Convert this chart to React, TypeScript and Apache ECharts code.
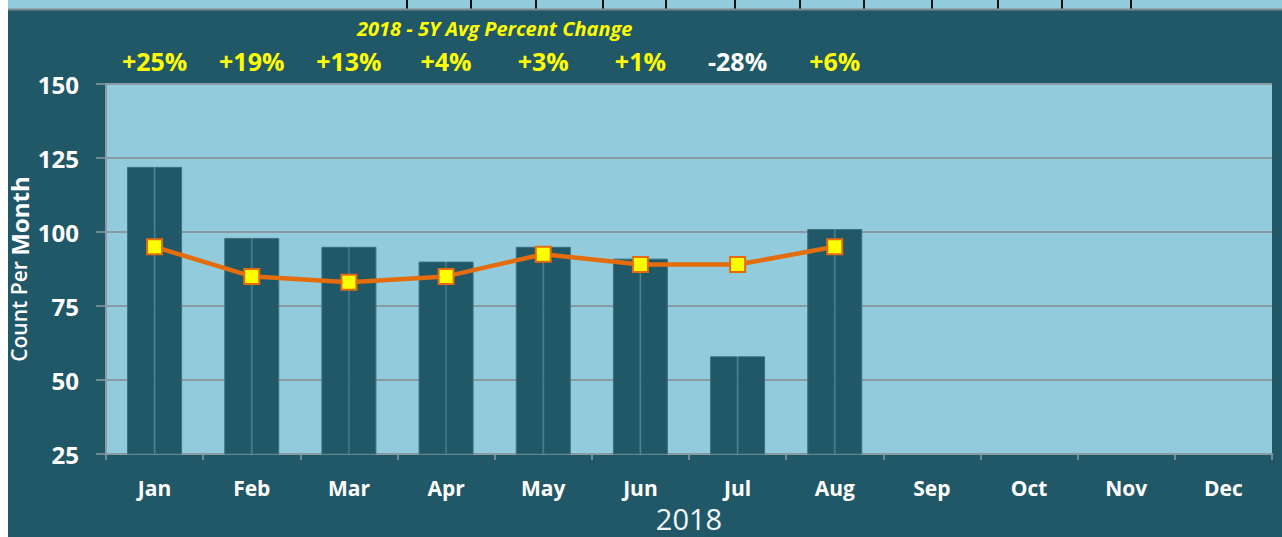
import React, { useEffect, useRef } from "react";
import * as echarts from "echarts";

const months = ["Jan", "Feb", "Mar", "Apr", "May", "Jun", "Jul", "Aug", "Sep", "Oct", "Nov", "Dec"];
const counts2018 = [122, 98, 95, 90, 95, 91, 58, 101];
const avg5y = [95, 85, 83, 85, 92.5, 89, 89, 95];
const percentChange = ["+25%", "+19%", "+13%", "+4%", "+3%", "+1%", "-28%", "+6%", "", "", "", ""];
const yTicks = { min: 25, max: 150, interval: 25 };
const topStripTicks = [407, 471, 536, 603, 666, 735, 800, 864, 932, 998, 1062, 1131];

const FONT = "'Open Sans', 'Noto Sans', sans-serif";
const TEAL = "#215868";
const LIGHT = "#92cbdc";
const GRAY = "#8a9aa2";

export default function App() {
  const ref = useRef<HTMLDivElement>(null);
  useEffect(() => {
    if (!ref.current) return;
    const chart = echarts.init(ref.current, null, { renderer: "svg" });
    const stripGraphics: any[] = [
      { type: "rect", shape: { x: 0, y: 0, width: 1274, height: 9 }, style: { fill: LIGHT }, silent: true },
      { type: "line", shape: { x1: 0, y1: 9.5, x2: 1274, y2: 9.5 }, style: { stroke: "#7d8a8f", lineWidth: 2 }, silent: true },
      ...topStripTicks.map((x) => ({
        type: "line",
        shape: { x1: x - 8, y1: 0, x2: x - 8, y2: 8.5 },
        style: { stroke: "#111", lineWidth: 2 },
        silent: true,
      })),
    ];
    chart.setOption({
      animation: false,
      backgroundColor: TEAL,
      textStyle: { fontFamily: FONT },
      title: {
        text: "2018 - 5Y Avg Percent Change",
        left: 344,
        top: 13,
        textStyle: { color: "#ffff00", fontSize: 20, fontStyle: "italic", fontWeight: "bold", fontFamily: FONT },
      },
      graphic: stripGraphics,
      grid: {
        left: 98, right: 10, top: 84, bottom: 83,
        outerBoundsMode: "none",
        containLabel: false,
        show: true, backgroundColor: LIGHT, borderWidth: 0,
      },
      xAxis: [
        {
          type: "category",
          data: months,
          position: "bottom",
          axisLine: { lineStyle: { color: GRAY, width: 2 } },
          axisTick: { show: true, length: 6, lineStyle: { color: GRAY, width: 1.5 } },
          axisLabel: { color: "#ffffff", fontSize: 21, fontWeight: "bold", margin: 23, fontFamily: FONT },
          name: "2018",
          nameLocation: "middle",
          nameGap: 50,
          nameMoveOverlap: false,
          nameTextStyle: { color: "#f2f6f7", fontSize: 29, fontFamily: FONT },
        },
        {
          type: "category",
          data: percentChange,
          position: "top",
          axisLine: { show: false },
          axisTick: { show: false },
          axisLabel: {
            interval: 0,
            margin: 10,
            formatter: (v: string) => (v.startsWith("-") ? `{neg|${v}}` : `{pos|${v}}`),
            rich: {
              pos: { color: "#ffff00", fontSize: 25, fontWeight: "bold", lineHeight: 26, fontFamily: FONT },
              neg: { color: "#ffffff", fontSize: 25, fontWeight: "bold", lineHeight: 26, fontFamily: FONT },
            },
          },
        },
      ],
      yAxis: {
        type: "value",
        min: yTicks.min,
        max: yTicks.max,
        interval: yTicks.interval,
        axisLine: { show: true, lineStyle: { color: GRAY, width: 2 } },
        axisTick: { show: true, length: 10, lineStyle: { color: GRAY, width: 1.5 } },
        splitLine: { lineStyle: { color: GRAY, width: 2 } },
        axisLabel: { color: "#ffffff", fontSize: 24, fontWeight: "bold", margin: 27, fontFamily: FONT },
        name: "{cp|Count Per }{mo|Month}",
        nameLocation: "middle",
        nameRotate: 90,
        nameGap: 76,
        nameMoveOverlap: false,
        nameTextStyle: {
          color: "#ffffff",
          fontSize: 21,
          fontWeight: 600,
          fontFamily: FONT,
          lineHeight: 22,
          rich: {
            cp: { color: "#ffffff", fontSize: 21, fontWeight: 600, lineHeight: 22, fontFamily: FONT },
            mo: { color: "#ffffff", fontSize: 24, fontWeight: "bold", lineHeight: 22, fontFamily: FONT },
          },
        },
      },
      series: [
        {
          name: "2018",
          type: "bar",
          data: counts2018,
          barWidth: 27.5,
          barGap: "0%",
          itemStyle: { color: TEAL, borderColor: "#3a7080", borderWidth: 1 },
          z: 2,
        },
        {
          name: "2018 ",
          type: "bar",
          data: counts2018,
          barWidth: 27.5,
          barGap: "0%",
          itemStyle: { color: TEAL, borderColor: "#3a7080", borderWidth: 1 },
          z: 2,
        },
        {
          name: "5Y Avg",
          type: "line",
          data: avg5y,
          symbol: "rect",
          symbolSize: 15,
          lineStyle: { color: "#e46c0a", width: 4.5 },
          itemStyle: { color: "#ffff00", borderColor: "#e46c0a", borderWidth: 2 },
          z: 5,
        },
      ],
    });
    return () => chart.dispose();
  }, []);
  return (
    <div
      ref={ref}
      style={{ position: "absolute", left: 8, top: 0, width: 1274, height: 537 }}
    />
  );
}
